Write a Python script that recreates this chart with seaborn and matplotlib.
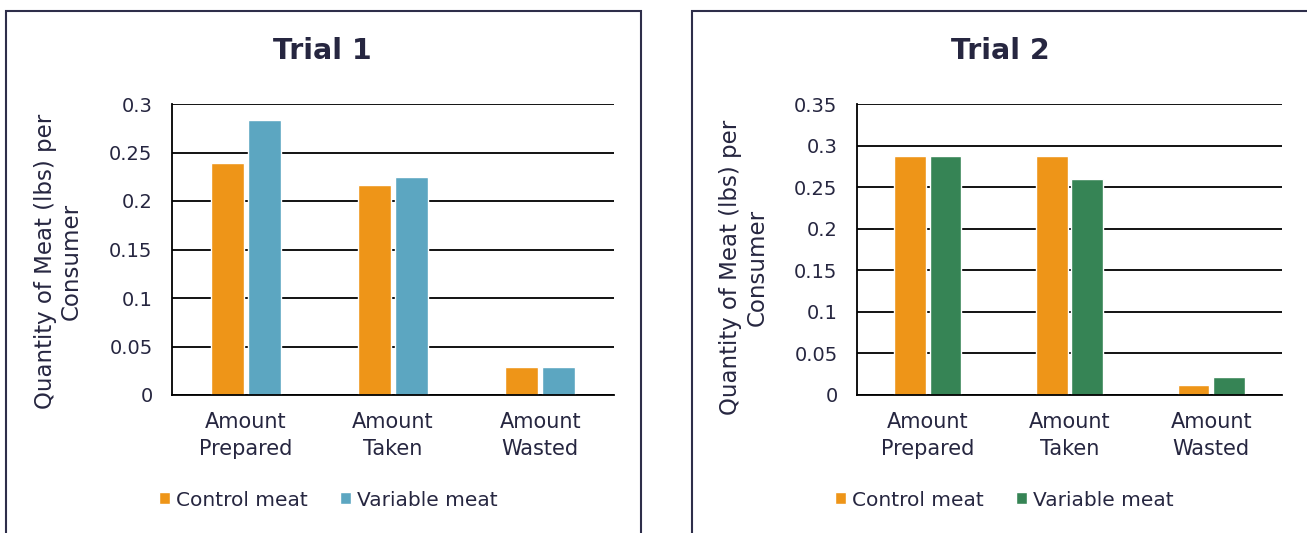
import pandas as pd
import matplotlib
matplotlib.use("Agg")
from matplotlib import pyplot as plt
from matplotlib.patches import Rectangle
import seaborn as sns

categories = ["Amount\nPrepared", "Amount\nTaken", "Amount\nWasted"]
series = ["Control meat", "Variable meat"]
trial1_control = [0.239, 0.217, 0.0285]
trial1_variable = [0.283, 0.225, 0.0285]
trial2_control = [0.288, 0.288, 0.012]
trial2_variable = [0.288, 0.260, 0.0213]
trial1_ticks = [0, 0.05, 0.1, 0.15, 0.2, 0.25, 0.3]
trial2_ticks = [0, 0.05, 0.1, 0.15, 0.2, 0.25, 0.3, 0.35]

ORANGE = "#EE9518"
BLUE = "#5CA6C1"
GREEN = "#368455"
TEXT = "#262640"


def long_df(control, variable):
  return pd.DataFrame({
    "category": categories * 2,
    "series": [series[0]] * 3 + [series[1]] * 3,
    "value": control + variable,
  })


sns.set_style("white")
plt.rcParams["font.family"] = ["DejaVu Sans"]
plt.rcParams["text.color"] = TEXT

fig = plt.figure(figsize=(13.07, 5.33), dpi=100)

# panel borders
fig.patches.append(Rectangle((6 / 1307, -0.05), 635 / 1307, 1.05 - 11 / 533, transform=fig.transFigure,
                             fill=False, edgecolor="#2E2E4A", linewidth=1.5))
fig.patches.append(Rectangle((692 / 1307, -0.05), 0.5, 1.05 - 11 / 533, transform=fig.transFigure,
                             fill=False, edgecolor="#2E2E4A", linewidth=1.5))

ax1 = fig.add_axes([172 / 1307, 138 / 533, 442 / 1307, 291 / 533])
ax2 = fig.add_axes([857 / 1307, 138 / 533, 425 / 1307, 291 / 533])

panels = [
  (ax1, long_df(trial1_control, trial1_variable), [ORANGE, BLUE], trial1_ticks, "Trial 1", 322,
   0.354, (-0.257, 0.46)),
  (ax2, long_df(trial2_control, trial2_variable), [ORANGE, GREEN], trial2_ticks, "Trial 2", 1000,
   0.347, (-0.267, 0.44)),
]

for ax, df, colors, ticks, title, tx, lx, ylab_xy in panels:
  sns.barplot(df, x="category", y="value", hue="series", palette=colors, width=0.5, gap=0.1,
              ax=ax, saturation=1, legend=True)
  ax.set_xlim(-0.5, 2.5)
  ax.set_ylim(0, ticks[-1])
  ax.set_yticks(ticks)
  ax.set_yticklabels([f"{t:g}" for t in ticks], fontsize=14, color=TEXT)
  ax.tick_params(axis="x", labelsize=15, labelcolor=TEXT, length=0, pad=12)
  ax.tick_params(axis="y", length=0, pad=14)
  for lbl in ax.get_xticklabels():
    lbl.set_linespacing(1.45)
  ax.grid(axis="y", color="black", linewidth=1.3)
  ax.set_axisbelow(True)
  for side in ["top", "right"]:
    ax.spines[side].set_visible(False)
  ax.spines["left"].set_color("black")
  ax.spines["bottom"].set_color("black")
  ax.spines["left"].set_linewidth(1.3)
  ax.spines["bottom"].set_linewidth(1.3)
  ax.set_xlabel("")
  ax.set_ylabel("Quantity of Meat (lbs) per\nConsumer", fontsize=16.5, color=TEXT, va="center")
  ax.yaxis.set_label_coords(*ylab_xy)
  ax.legend(loc="center", bbox_to_anchor=(lx, -0.361), ncol=2,
            frameon=False, fontsize=14.5, handlelength=0.55, handleheight=0.55,
            handletextpad=0.3, columnspacing=1.6)
  fig.text(tx / 1307, 1 - 51 / 533, title, fontsize=20.5, fontweight="semibold", color=TEXT,
           ha="center", va="center")

fig.savefig("out.png", dpi=100)
